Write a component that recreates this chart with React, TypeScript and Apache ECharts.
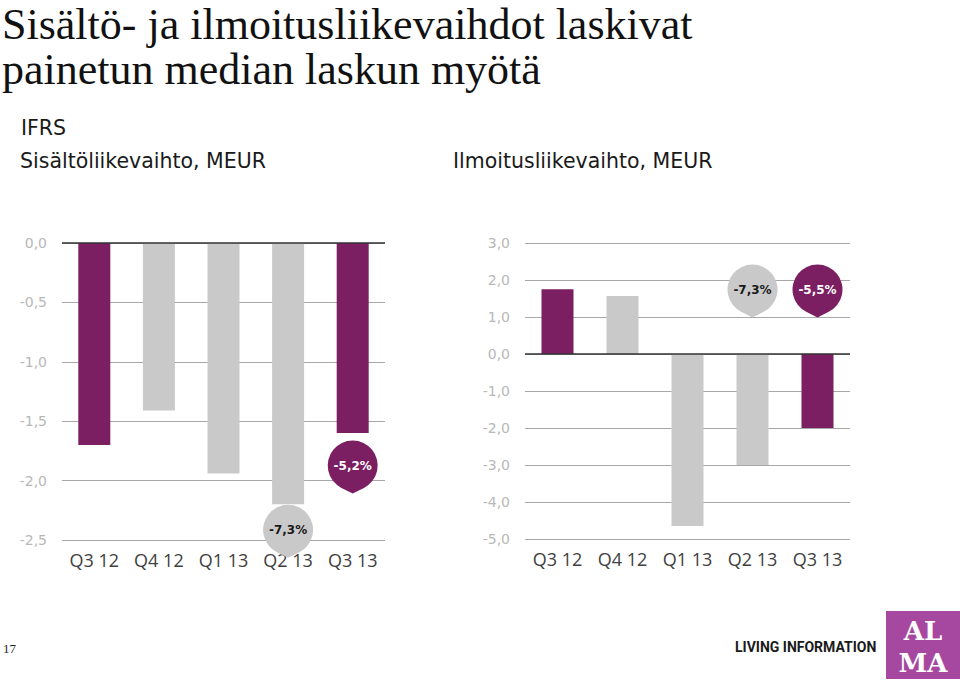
import React, { useEffect, useRef } from 'react';
import * as echarts from 'echarts';

// ---- Data ----
const categories = ['Q3 12', 'Q4 12', 'Q1 13', 'Q2 13', 'Q3 13'];
const contentRevenueChange = [-1.7, -1.41, -1.94, -2.2, -1.6];
const adRevenueChange = [1.75, 1.57, -4.65, -3.0, -2.0];
const highlighted = [true, false, false, false, true];
const contentCalloutLabels = ['-7,3%', '-5,2%'];
const adCalloutLabels = ['-7,3%', '-5,5%'];
const calloutCategoryIndex = [3, 4];
const leftTicks = { min: -2.5, max: 0, interval: 0.5 };
const rightTicks = { min: -5, max: 3, interval: 1 };

const titleLines = ['Sisältö- ja ilmoitusliikevaihdot laskivat', 'painetun median laskun myötä'];
const subtitleIFRS = 'IFRS';
const leftChartTitle = 'Sisältöliikevaihto, MEUR';
const rightChartTitle = 'Ilmoitusliikevaihto, MEUR';
const pageNumber = '17';
const tagline = 'LIVING INFORMATION';
const logoLines = ['AL', 'MA'];

// ---- Styles ----
const PURPLE = '#7b1e62';
const GRAY = '#c9c9c9';
const PIN_PATH = 'path://M25 52 L13.73 46.3 A25 25 0 1 1 36.27 46.3 Z';

const fmt = (v: number) => v.toFixed(1).replace('.', ',');

function buildOption() {
  const yCommon = {
    type: 'value',
    axisLine: { show: false },
    axisTick: { show: false },
    axisLabel: {
      formatter: fmt,
      color: '#b8b8b8',
      fontFamily: 'DejaVu Sans',
      fontSize: 14,
      margin: 15,
    },
    splitLine: { lineStyle: { color: '#a8a8a8', width: 1 } },
  };
  const xCommon = {
    type: 'category',
    data: categories,
    position: 'bottom',
    axisLine: { show: false, onZero: false },
    axisTick: { show: false },
    axisLabel: { fontSize: 18, color: '#404040', fontFamily: 'Open Sans', margin: 11 },
    splitLine: { show: false },
  };
  const barData = (vals: number[]) =>
    vals.map((v, i) => ({ value: v, itemStyle: { color: highlighted[i] ? PURPLE : GRAY } }));
  const zeroLine = {
    silent: true,
    symbol: ['none', 'none'],
    label: { show: false },
    lineStyle: { color: '#333333', width: 1.5, type: 'solid' },
    data: [{ yAxis: 0 }],
  };
  const pinLabel = {
    show: true,
    formatter: '{b}',
    fontFamily: 'DejaVu Sans',
    fontWeight: 'bold',
    fontSize: 12,
    offset: [0, -1],
  };
  const pinItem = (labels: string[], k: number, anchor: number, offset: number) => {
    const idx = calloutCategoryIndex[k];
    const purple = highlighted[idx];
    return {
      name: labels[k],
      coord: [idx, anchor],
      symbolOffset: [0, offset],
      itemStyle: { color: purple ? PURPLE : GRAY },
      label: { color: purple ? '#ffffff' : '#1a1a1a' },
    };
  };

  return {
    animation: false,
    backgroundColor: '#ffffff',
    grid: [
      { left: 62, top: 243, width: 323, height: 297 },
      { left: 525, top: 243, width: 325, height: 296 },
    ],
    xAxis: [
      { ...xCommon, gridIndex: 0 },
      { ...xCommon, gridIndex: 1 },
    ],
    yAxis: [
      { ...yCommon, gridIndex: 0, ...leftTicks },
      { ...yCommon, gridIndex: 1, ...rightTicks },
    ],
    series: [
      {
        type: 'bar',
        xAxisIndex: 0,
        yAxisIndex: 0,
        barWidth: 32,
        data: barData(contentRevenueChange),
        markLine: zeroLine,
        markPoint: {
          symbol: PIN_PATH,
          symbolSize: [50, 53],
          label: pinLabel,
          data: [
            pinItem(contentCalloutLabels, 0, contentRevenueChange[calloutCategoryIndex[0]], 27),
            pinItem(contentCalloutLabels, 1, contentRevenueChange[calloutCategoryIndex[1]], 34),
          ],
        },
      },
      {
        type: 'bar',
        xAxisIndex: 1,
        yAxisIndex: 1,
        barWidth: 32,
        data: barData(adRevenueChange),
        markLine: zeroLine,
        markPoint: {
          symbol: PIN_PATH,
          symbolSize: [50, 53],
          label: pinLabel,
          data: [
            pinItem(adCalloutLabels, 0, 1, -26),
            pinItem(adCalloutLabels, 1, 1, -26),
          ],
        },
      },
    ],
    graphic: {
      elements: [
        {
          type: 'text',
          x: 2,
          y: 9,
          style: {
            text: titleLines[0],
            font: '44px "Liberation Serif"',
            lineHeight: 31,
            fill: '#111111',
          },
        },
        {
          type: 'text',
          x: 2,
          y: 54,
          style: {
            text: titleLines[1],
            font: '44px "Liberation Serif"',
            lineHeight: 31,
            fill: '#111111',
          },
        },
        {
          type: 'text',
          x: 21,
          y: 128,
          style: { text: subtitleIFRS, font: '20.5px "DejaVu Sans"', fill: '#1a1a1a', verticalAlign: 'middle' },
        },
        {
          type: 'text',
          x: 20,
          y: 161,
          style: { text: leftChartTitle, font: '20.5px "DejaVu Sans"', fill: '#1a1a1a', verticalAlign: 'middle' },
        },
        {
          type: 'text',
          x: 453,
          y: 161,
          style: { text: rightChartTitle, font: '20.5px "DejaVu Sans"', fill: '#1a1a1a', verticalAlign: 'middle' },
        },
        {
          type: 'text',
          x: 3,
          y: 648,
          style: { text: pageNumber, font: '13px "Liberation Serif"', fill: '#222222', verticalAlign: 'middle' },
        },
        {
          type: 'text',
          x: 735,
          y: 647,
          style: { text: tagline, font: 'bold 14px Roboto', fill: '#1a1a1a', verticalAlign: 'middle' },
        },
        {
          type: 'rect',
          shape: { x: 886, y: 611, width: 74, height: 68 },
          style: { fill: '#a6489f' },
        },
        {
          type: 'text',
          x: 923,
          y: 631,
          style: {
            text: logoLines[0],
            font: 'bold 26px "DejaVu Serif"',
            fill: '#ffffff',
            align: 'center',
            verticalAlign: 'middle',
          },
        },
        {
          type: 'text',
          x: 923,
          y: 663,
          style: {
            text: logoLines[1],
            font: 'bold 26px "DejaVu Serif"',
            fill: '#ffffff',
            align: 'center',
            verticalAlign: 'middle',
          },
        },
      ],
    },
  };
}

export default function App() {
  const ref = useRef<HTMLDivElement>(null);
  useEffect(() => {
    if (!ref.current) return;
    const chart = echarts.init(ref.current, undefined, { renderer: 'svg' });
    chart.setOption(buildOption() as any);
    return () => chart.dispose();
  }, []);
  return (
    <div
      ref={ref}
      style={{ position: 'absolute', left: 0, top: 0, width: 960, height: 681 }}
    />
  );
}
